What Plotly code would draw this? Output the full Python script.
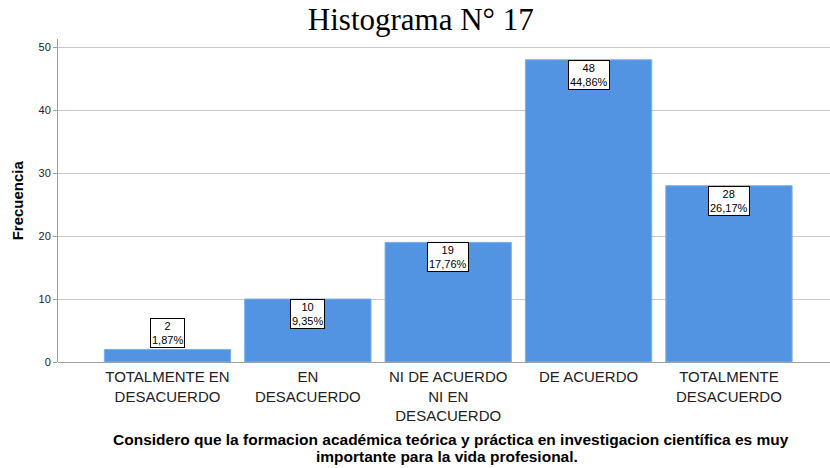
import plotly.graph_objects as go

categories = ["TOTALMENTE EN<br>DESACUERDO", "EN<br>DESACUERDO", "NI DE ACUERDO<br>NI EN<br>DESACUERDO",
              "DE ACUERDO", "TOTALMENTE<br>DESACUERDO"]
counts = [2, 10, 19, 48, 28]
y_ticks = [0, 10, 20, 30, 40, 50]
x_title_lines = ["Considero que la formacion académica teórica y práctica en investigacion científica es muy",
                 "importante para la vida profesional."]

total = sum(counts)
pct_labels = [f"{c / total * 100:.2f}%".replace(".", ",") for c in counts]

fig = go.Figure()
fig.add_trace(go.Bar(
    x=list(range(len(categories))), y=counts, width=0.9,
    marker=dict(color="#5394e2", line=dict(color="#7fb0ea", width=1)),
    hoverinfo="skip",
))

for i, (c, p) in enumerate(zip(counts, pct_labels)):
    small = c < 5
    fig.add_annotation(
        x=i, y=c, xref="x", yref="y", text=f"{c}<br>{p}", showarrow=False,
        yanchor="bottom" if small else "top", yshift=1 if small else 0,
        font=dict(family="Arial, Liberation Sans", size=11, color="black"),
        bgcolor="white", bordercolor="black", borderwidth=1, borderpad=1,
    )

for k, line in enumerate(x_title_lines):
    fig.add_annotation(
        x=0.509 if k == 0 else 0.504, y=-0.24 - k * 0.053, xref="paper", yref="paper",
        yanchor="middle", xanchor="center", showarrow=False,
        text=f"<b>{line}</b>",
        font=dict(family="Arial, Liberation Sans", size=15.5, color="black"),
    )
fig.add_annotation(
    x=-0.052, y=0.5, xref="paper", yref="paper", xanchor="center", yanchor="middle",
    showarrow=False, textangle=-90,
    text="<b>Frecuencia</b>",
    font=dict(family="Arial, Liberation Sans", size=15, color="black"),
)

fig.update_layout(
    width=830, height=468,
    margin=dict(l=58, r=0, t=39, b=106, autoexpand=False),
    paper_bgcolor="white", plot_bgcolor="white",
    showlegend=False,
    title=dict(text="Histograma N° 17", x=0.507, xanchor="center", y=0.96, yanchor="middle",
               font=dict(family="Liberation Serif, Times New Roman", size=31, color="black")),
    xaxis=dict(
        range=[-0.78, 4.72], tickmode="array", tickvals=list(range(len(categories))),
        ticktext=categories, showgrid=False, zeroline=False, showline=False,
        ticks="", automargin=False, ticklabelstandoff=4,
        tickfont=dict(family="Arial, Liberation Sans", size=15, color="#222222"),
        fixedrange=True,
    ),
    yaxis=dict(
        range=[0, 51.3], tickmode="array", tickvals=y_ticks, automargin=False,
        showgrid=True, gridcolor="#c8c8c8", gridwidth=1, zeroline=True,
        zerolinecolor="#a0a0a0", zerolinewidth=1,
        showline=True, linecolor="#a0a0a0", linewidth=1, ticks="outside", ticklen=4,
        tickcolor="#a0a0a0",
        tickfont=dict(family="Arial, Liberation Sans", size=11, color="#222222"),
        fixedrange=True,
    ),
)

fig.write_html("out.html", config={"displayModeBar": False},
               post_script="document.body.style.margin='0px';document.body.style.overflow='hidden';")
